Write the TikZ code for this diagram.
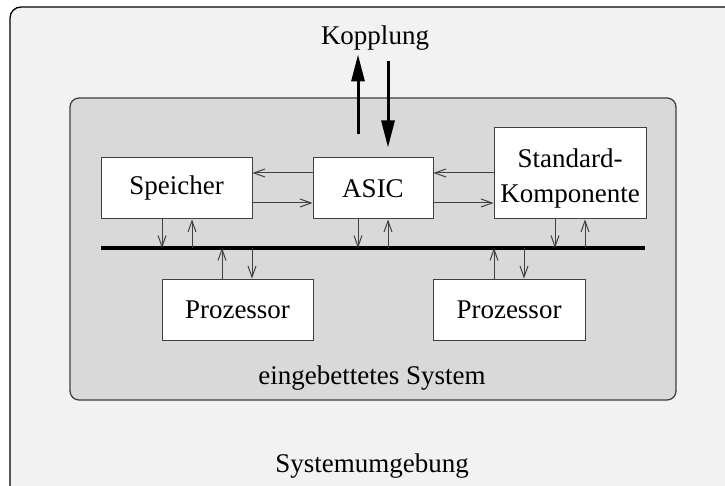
\documentclass[tikz,border=0pt]{standalone}
\usepackage{fontspec}
\setmainfont{Liberation Serif}
\usetikzlibrary{arrows.meta,calc}
\definecolor{outerbg}{HTML}{F2F2F2}
\definecolor{innerbg}{HTML}{D9D9D9}
\definecolor{linegray}{HTML}{404040}
\tikzset{
  unitbox/.style={draw=linegray, line width=1pt, fill=white, inner sep=0pt, align=center,
    font=\fontsize{27}{30}\selectfont},
  lbl/.style={inner sep=0pt, font=\fontsize{27}{30}\selectfont},
  arr/.style={draw=linegray, line width=1pt, -{Straight Barb[length=11pt,width=8pt,line width=1pt]}},
  bigarr/.style={draw=black, line width=3pt, -{Triangle[length=27pt,width=13pt]}},
  busline/.style={draw=black, line width=3.5pt},
}
\begin{document}
\begin{tikzpicture}[x=1pt,y=-1pt]
\useasboundingbox (0,0) rectangle (725,486);
\clip (0,0) rectangle (725,486);
\fill[white] (0,0) rectangle (725,486);
% outer environment
\draw[fill=outerbg, draw=black, line width=1.3pt, rounded corners=11pt] (10,7) rectangle (760,520);
% embedded system
\draw[fill=innerbg, draw=linegray, line width=1.3pt, rounded corners=9pt] (70,98) rectangle (676,400);

\node[unitbox, minimum width=151pt, minimum height=61pt] (speicher) at (176.5,188.5) {Speicher};
\node[unitbox, minimum width=120pt, minimum height=61pt] (asic) at (373,188.5) {ASIC};
\node[unitbox, minimum width=152pt, minimum height=91pt] (std) at (570,173.5) {\rule{0pt}{29pt}Standard-\\[5pt]Komponente};
\node[unitbox, minimum width=151pt, minimum height=61pt] (proc1) at (237.5,309.5) {Prozessor};
\node[unitbox, minimum width=152pt, minimum height=61pt] (proc2) at (509,309.5) {Prozessor};

\node[lbl] (kopplung) at (375,38) {Kopplung};
\node[lbl] (eingebettet) at (372,378) {eingebettetes System};
\node[lbl] (umgebung) at (372,466) {Systemumgebung};

% bus
\coordinate (busL) at (101,248);
\coordinate (busR) at (645,248);
\draw[busline] (busL) -- (busR);

% horizontal connections
\draw[arr] ($(asic.west)+(0,-15.5)$) -- ($(speicher.east)+(0,-15.5)$);
\draw[arr] ($(speicher.east)+(0,14.5)$) -- ($(asic.west)+(0,14.5)$);
\draw[arr] ($(std.west)+(0,-0.5)$) -- ($(asic.east)+(0,-15.5)$);
\draw[arr] ($(asic.east)+(0,14.5)$) -- ($(std.west)+(0,29.5)$);

% vertical connections to bus
\draw[arr] ([xshift=-14.5pt]speicher.south) -- ([xshift=-14.5pt]speicher.south |- busL);
\draw[arr] ([xshift=15.5pt]speicher.south |- busL) -- ([xshift=15.5pt]speicher.south);
\draw[arr] ([xshift=-15pt]asic.south) -- ([xshift=-15pt]asic.south |- busL);
\draw[arr] ([xshift=15pt]asic.south |- busL) -- ([xshift=15pt]asic.south);
\draw[arr] ([xshift=-15pt]std.south) -- ([xshift=-15pt]std.south |- busL);
\draw[arr] ([xshift=15pt]std.south |- busL) -- ([xshift=15pt]std.south);
\draw[arr] ([xshift=-15.5pt]proc1.north) -- ([xshift=-15.5pt]proc1.north |- busL);
\draw[arr] ([xshift=14.5pt]proc1.north |- busL) -- ([xshift=14.5pt]proc1.north);
\draw[arr] ([xshift=-15pt]proc2.north) -- ([xshift=-15pt]proc2.north |- busL);
\draw[arr] ([xshift=15pt]proc2.north |- busL) -- ([xshift=15pt]proc2.north);

% coupling
\draw[bigarr] ($(asic.north)+(-15,-23)$) -- ([xshift=-17pt,yshift=-4pt]kopplung.south);
\draw[bigarr] ([xshift=13pt,yshift=-11pt]kopplung.south) -- ($(asic.north)+(15,-10)$);
\end{tikzpicture}
\end{document}
